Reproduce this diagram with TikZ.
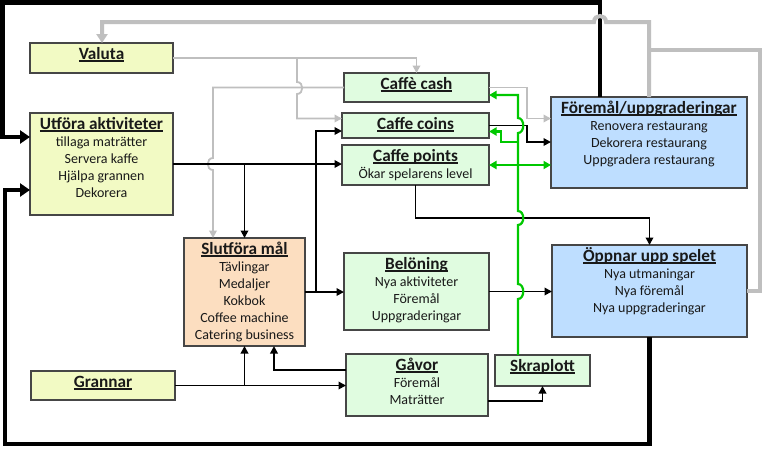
\documentclass[tikz,border=0pt]{standalone}
\usepackage{fontspec}
\setmainfont{Carlito}
\usetikzlibrary{arrows.meta,calc}
\definecolor{yel}{RGB}{242,250,196}
\definecolor{grn}{RGB}{224,252,224}
\definecolor{pch}{RGB}{252,222,192}
\definecolor{blu}{RGB}{190,222,255}
\definecolor{bord}{RGB}{70,70,70}
\definecolor{gry}{RGB}{191,191,191}
\definecolor{lgrn}{RGB}{0,200,0}
\definecolor{txtc}{RGB}{25,25,25}
\newcommand\myul[1]{\setbox0\hbox{#1}\rlap{\rule[-2pt]{\wd0}{1.3pt}}\box0}
\newcommand\ttl[1]{{\fontsize{17.2}{17}\selectfont\bfseries\rule{0pt}{16.5pt}\myul{#1}}}
\begin{document}
\begin{tikzpicture}[x=1pt,y=-1pt,
  box/.style={draw=bord, line width=1.3pt, anchor=north west, inner sep=0pt, outer sep=0pt},
  txt/.style={anchor=north, inner sep=0pt, align=center, text=txtc, font=\fontsize{14}{17}\selectfont},
  ln/.style={line width=1.8pt, black},
  arr/.style={ln, -{Triangle[length=7.5pt,width=7.5pt]}},
  thk/.style={line width=4.5pt, black, -{Triangle[length=10pt,width=13pt]}},
  gthk/.style={line width=4pt, gry, -{Triangle[length=9pt,width=11pt]}},
  gar/.style={line width=1.8pt, gry, -{Triangle[length=7.5pt,width=7.5pt]}},
  gr/.style={line width=2.2pt, lgrn},
  grar/.style={gr, -{Triangle[length=7.5pt,width=8pt]}}
]
\useasboundingbox[fill=white] (0,0) rectangle (764,448);

% boxes
\node[box, fill=yel, minimum width=143pt, minimum height=30pt] (valuta) at (30,43) {};
\node[box, fill=yel, minimum width=143pt, minimum height=102pt] (utf) at (30,113) {};
\node[box, fill=pch, minimum width=121pt, minimum height=108pt] (slut) at (184,238) {};
\node[box, fill=yel, minimum width=144pt, minimum height=29pt] (gran) at (31,371) {};
\node[box, fill=grn, minimum width=145pt, minimum height=29pt] (ccash) at (344,73) {};
\node[box, fill=grn, minimum width=147pt, minimum height=25pt] (ccoins) at (342,113) {};
\node[box, fill=grn, minimum width=147pt, minimum height=40pt] (cpoints) at (342,145) {};
\node[box, fill=blu, minimum width=196pt, minimum height=91pt] (fore) at (551,97) {};
\node[box, fill=grn, minimum width=145pt, minimum height=77pt] (bel) at (344,253) {};
\node[box, fill=grn, minimum width=142pt, minimum height=62pt] (gavor) at (346,354) {};
\node[box, fill=grn, minimum width=95pt, minimum height=31pt] (skrap) at (495,355) {};
\node[box, fill=blu, minimum width=195pt, minimum height=92pt] (open) at (552,245) {};

% texts
\node[txt] (valuta-t) at (valuta.north) {\ttl{Valuta}};
\node[txt] (utf-t) at (utf.north) {\ttl{Utföra aktiviteter}\\tillaga maträtter\\Servera kaffe\\Hjälpa grannen\\Dekorera};
\node[txt] (slut-t) at (slut.north) {\ttl{Slutföra mål}\\Tävlingar\\Medaljer\\Kokbok\\Coffee machine\\Catering business};
\node[txt] (gran-t) at (gran.north) {\ttl{Grannar}};
\node[txt] (ccash-t) at (ccash.north) {\ttl{Caffè cash}};
\node[txt] (ccoins-t) at (ccoins.north) {\ttl{Caffe coins}};
\node[txt] (cpoints-t) at (cpoints.north) {\ttl{Caffe points}\\Ökar spelarens level};
\node[txt] (fore-t) at (fore.north) {\ttl{Föremål/uppgraderingar}\\Renovera restaurang\\Dekorera restaurang\\Uppgradera restaurang};
\node[txt] (bel-t) at (bel.north) {\ttl{Belöning}\\Nya aktiviteter\\Föremål\\Uppgraderingar};
\node[txt] (gavor-t) at (gavor.north) {\ttl{Gåvor}\\Föremål\\Maträtter};
\node[txt] (skrap-t) at (skrap.north) {\ttl{Skraplott}};
\node[txt] (open-t) at (open.north) {\ttl{Öppnar upp spelet}\\Nya utmaningar\\Nya föremål\\Nya uppgraderingar};

% thick black loops
\draw[thk] ([xshift=49pt]fore.north west) |- (2.5,2.5) |- ([yshift=-24pt]utf.north west);
\draw[thk] (open.south) |- (5,444) |- ([yshift=-77pt]utf.north west);

% thick gray
\draw[gthk] (fore.north) -- (649,22) -- (606,22) .. controls (606,14) and (594,14) .. (594,22) -- (102,22) -- ([xshift=72pt]valuta.north west);
\draw[gthk, -] (open.east) -| (760,50) -- (649,50);

% thin gray
\draw[gar] (valuta.east) -| (ccash.north);
\draw[gar] (297,58) -- (297,82) .. controls (304,82) and (304,94) .. (297,94) -- (297,118.5) -- ([yshift=7pt]ccoins.west);
\draw[gar] (ccash.west) -- (213,87.5) -- (213,158) .. controls (206,158) and (206,170) .. (213,170) -- ([xshift=29pt]slut.north west);
\draw[gar] (ccash.east) -- (527,87.5) -- (527,118.5) -- ([yshift=-21.5pt]fore.north west);

% thin black
\draw[arr] (utf.east) -- (utf.east -| cpoints.west);
\draw[arr] (slut.north |- utf.east) -- (slut.north);
\draw[arr] (slut.east) -- (slut.east -| bel.west);
\draw[arr] (316,292) |- ([yshift=-5.5pt]ccoins.west);
\draw[arr] (ccoins.east) -- (527,125.5) -- (527,142) -- ([yshift=-45pt]fore.north west);
\draw[arr] (cpoints.south) -- ++(0,33) -| (open.north);
\draw[arr] (bel.east) -- (bel.east -| open.west);
\draw[arr] (gran.east) -- (gran.east -| gavor.west);
\draw[arr] (slut.south |- gran.east) -- (slut.south);
\draw[arr] ([yshift=15pt]gavor.west) -| ([xshift=90pt]slut.south west);
\draw[arr] ([yshift=-16pt]gavor.east) -| (skrap.south);

% green
\draw[grar] ([xshift=23pt]skrap.north west) -- (518,299) .. controls (525,299) and (525,284) .. (518,284)
  -- (518,225) .. controls (525,225) and (525,211) .. (518,211)
  -- (518,133) .. controls (525,133) and (525,118) .. (518,118)
  -- (518,95) -- ([yshift=-7.5pt]ccash.east);
\draw[grar] (518,142) -- (501,142) -- (501,131.5) -- ([yshift=-6pt]ccoins.east);
\draw[gr, {Triangle[length=7.5pt,width=8pt]}-{Triangle[length=7.5pt,width=8pt]}] (cpoints.east) -- (cpoints.east -| fore.west);
\end{tikzpicture}
\end{document}
